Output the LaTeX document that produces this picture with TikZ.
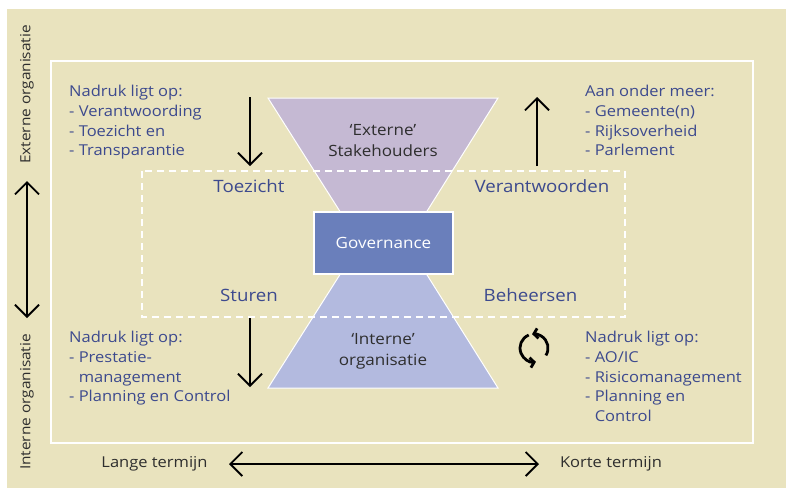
\documentclass[tikz,border=0pt]{standalone}
\usepackage{fontspec}
\setmainfont{Open Sans}[FakeStretch=1.1]
\usetikzlibrary{arrows.meta,positioning}
\definecolor{paper}{HTML}{E9E3BE}
\definecolor{extfill}{HTML}{C5B9D3}
\definecolor{intfill}{HTML}{B3BADF}
\definecolor{govfill}{HTML}{6A7FBB}
\definecolor{navy}{HTML}{3D4A8E}
\definecolor{darkink}{HTML}{2E2E2E}

\begin{document}
\begin{tikzpicture}[x=1pt,y=-1pt,>={Straight Barb[length=12pt,width=24pt]},
  font=\fontsize{15}{19.7}\selectfont,
  txt/.style={text=navy,inner sep=0pt,font=\fontsize{17}{20}\selectfont},
  listtxt/.style={text=navy,inner sep=0pt,anchor=north west,align=left},
  blacktxt/.style={text=darkink,inner sep=0pt},
  sidetxt/.style={blacktxt,rotate=90,font=\fontsize{14}{16}\selectfont},
  trapztxt/.style={blacktxt,anchor=north,align=center,font=\fontsize{15.5}{21.7}\selectfont},
  arr/.style={->,line width=1.8pt},
  darr/.style={<->,line width=1.8pt},
  govbox/.style={fill=govfill,draw=white,line width=2pt,minimum width=139,minimum height=62,text=white,font=\fontsize{15.5}{18}\selectfont}]
\useasboundingbox (0,0) rectangle (786,488);
\fill[white] (0,0) rectangle (786,488);
\fill[paper] (7,9) rectangle (786,488);
\draw[white,line width=1.5pt] (51,61) rectangle (753,443);

% hourglass
\filldraw[fill=extfill,draw=white,line width=1pt] (268,98) -- (498,98) -- (407,243) -- (360,243) -- cycle;
\filldraw[fill=intfill,draw=white,line width=1pt] (268,388) -- (498,388) -- (407,243) -- (360,243) -- cycle;
\draw[white,line width=1.4pt,dash pattern=on 7pt off 5pt] (142,171) rectangle (625,317);
\node[govbox] (gov) at (383.5,243) {Governance};

\node[trapztxt] (ext) at (383,124) {`Externe'\\Stakehouders};
\node[trapztxt] (int) at (383,333) {`Interne'\\organisatie};

\node[txt] (toezicht) at (249,186) {Toezicht};
\node[txt] (verantw) at (542,186) {Verantwoorden};
\node[txt] (sturen) at (249,295.5) {Sturen};
\node[txt] (beheersen) at (530.5,295.5) {Beheersen};

% lists
\node[listtxt] (nadruk1) at (69,85) {Nadruk ligt op:\\- Verantwoording\\- Toezicht en\\- Transparantie};
\node[listtxt] (aan) at (585,85) {Aan onder meer:\\- Gemeente(n)\\- Rijksoverheid\\- Parlement};
\node[listtxt] (nadruk2) at (69,331) {Nadruk ligt op:\\- Prestatie-\\\phantom{- }management\\- Planning en Control};
\node[listtxt] (nadruk3) at (585,331) {Nadruk ligt op:\\- AO/IC\\- Risicomanagement\\- Planning en\\\phantom{- }Control};

% arrows
\coordinate (tzA) at (250,97);
\coordinate (tzB) at (250,166);
\draw[arr] (tzA) -- (tzB);
\coordinate (vwA) at (537,166);
\coordinate (vwB) at (537,97);
\draw[arr] (vwA) -- (vwB);
\coordinate (stA) at (250,318);
\coordinate (stB) at (250,387);
\draw[arr] (stA) -- (stB);

% axes
\node[sidetxt] (extorg) at (27,94.5) {Externe organisatie};
\node[sidetxt] (intorg) at (27,402) {Interne organisatie};
\coordinate (vT) at (27,181);
\coordinate (vB) at (27,318);
\draw[darr] (vT) -- (vB);
\node[blacktxt] (lange) at (154.5,464) {Lange termijn};
\node[blacktxt] (korte) at (611,464) {Korte termijn};
\coordinate (hL) at (229,464);
\coordinate (hR) at (539,464);
\draw[darr] (hL) -- (hR);

% cycle
\coordinate (cyc) at (534,348);
\draw[line width=2.8pt,-{Straight Barb[length=4pt,width=10pt]}] (cyc) ++(-112:14) arc[start angle=-112,end angle=-278,radius=14];
\draw[line width=2.8pt,-{Straight Barb[length=4pt,width=10pt]}] (cyc) ++(32:14) arc[start angle=32,end angle=-98,radius=14];
\end{tikzpicture}
\end{document}
